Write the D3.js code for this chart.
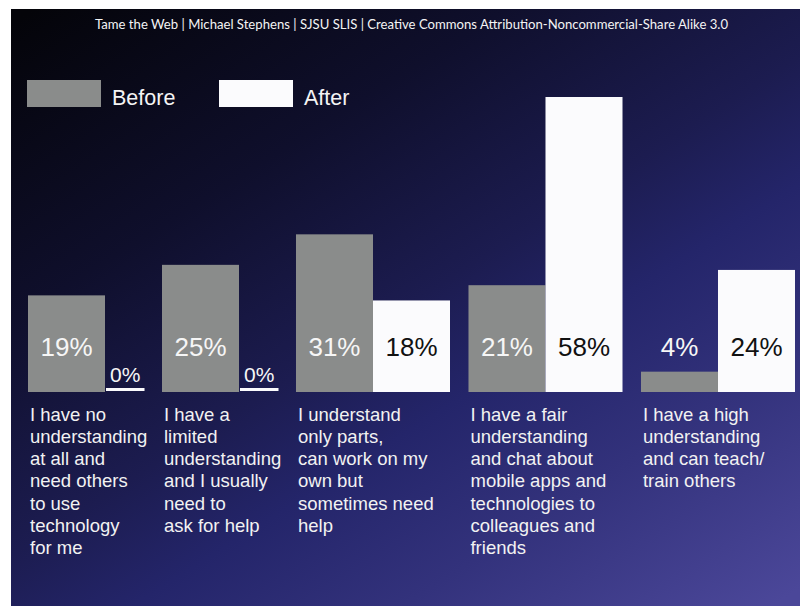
<!DOCTYPE html>
<html>
<head>
<meta charset="utf-8">
<script src="https://cdn.jsdelivr.net/npm/d3@7"></script>
<style>
  html, body { margin: 0; padding: 0; background: #ffffff; }
  svg { display: block; }
</style>
</head>
<body>
<script>
// ---- data ----
const titleText = "Tame the Web | Michael Stephens  | SJSU SLIS | Creative Commons Attribution-Noncommercial-Share Alike 3.0";
const seriesNames = ["Before", "After"];
const categoryLabels = [
  ["I have no", "understanding", "at all and", "need others", "to use", "technology", "for me"],
  ["I have a", "limited", "understanding", "and I usually", "need to", "ask for help"],
  ["I understand", "only parts,", "can work on my", "own but", "sometimes need", "help"],
  ["I have a fair", "understanding", "and chat about", "mobile apps and", "technologies to", "colleagues and", "friends"],
  ["I have a high", "understanding", "and can teach/", "train others"]
];
const beforeValues = [19, 25, 31, 21, 4];
const afterValues  = [0, 0, 18, 58, 24];

// ---- layout / style ----
const W = 803, H = 606;
const colors = { Before: "#8a8c8b", After: "#fbfbfd" };

const svg = d3.select("body").append("svg").attr("width", W).attr("height", H);
const defs = svg.append("defs");
const grad = defs.append("linearGradient").attr("id", "bg")
  .attr("gradientUnits", "userSpaceOnUse")
  .attr("x1", 80).attr("y1", -20).attr("x2", 560).attr("y2", 740);
[[0, "#040409"], [0.28, "#0f0f2c"], [0.5, "#1c1c50"], [0.62, "#24256a"], [0.78, "#33327c"], [1, "#4b4799"]]
  .forEach(([o, c]) => grad.append("stop").attr("offset", o).attr("stop-color", c));

// slide background (white margins around)
svg.append("rect").attr("x", 0).attr("y", 0).attr("width", W).attr("height", H).attr("fill", "#ffffff");
svg.append("rect").attr("x", 11).attr("y", 9).attr("width", 789).attr("height", H - 9).attr("fill", "url(#bg)");

// title
svg.append("text")
  .attr("x", 411.5).attr("y", 29)
  .attr("text-anchor", "middle")
  .attr("textLength", 633).attr("lengthAdjust", "spacingAndGlyphs")
  .attr("font-family", "Lato, 'Open Sans', sans-serif")
  .attr("font-size", 13.5)
  .attr("fill", "#f4f4f4")
  .text(titleText);

// legend
const legend = svg.append("g").attr("transform", "translate(27,80)");
seriesNames.forEach((name, i) => {
  const g = legend.append("g").attr("transform", `translate(${i * 192},0)`);
  g.append("rect").attr("width", 74).attr("height", 27).attr("fill", colors[name]);
  g.append("text").attr("x", 85).attr("y", 25)
    .attr("font-family", "'Liberation Sans', Arial, sans-serif")
    .attr("font-size", 21.5).attr("fill", "#f4f4f4").text(name);
});

// ---- scales ----
// group widths in "bar units": a zero bar occupies half a unit
const gapUnits = 0.24;
const groups = beforeValues.map((b, i) => ({
  i, before: b, after: afterValues[i],
  units: 1 + (afterValues[i] > 0 ? 1 : 0.5)
}));
let acc = 0;
groups.forEach((g, k) => { g.start = acc; acc += g.units + (k < groups.length - 1 ? gapUnits : 0); });
const totalUnits = acc;
const x = d3.scaleLinear().domain([0, totalUnits]).range([28, 795]);
const y = d3.scaleLinear().domain([0, 58]).range([392, 97]);
const unitPx = x(1) - x(0);

const labelBaseline = 356;
const fontFam = "'Liberation Sans', Arial, Helvetica, sans-serif";

groups.forEach(g => {
  const bars = [
    { name: "Before", v: g.before, x0: x(g.start) },
    { name: "After", v: g.after, x0: x(g.start + 1) }
  ];
  bars.forEach(b => {
    if (b.v > 0) {
      svg.append("rect")
        .attr("x", b.x0).attr("y", y(b.v))
        .attr("width", unitPx).attr("height", y(0) - y(b.v))
        .attr("fill", colors[b.name]);
      const covered = y(b.v) < labelBaseline - 22;
      svg.append("text")
        .attr("x", b.x0 + unitPx / 2).attr("y", labelBaseline)
        .attr("text-anchor", "middle")
        .attr("font-family", fontFam).attr("font-size", 26)
        .attr("fill", covered && b.name === "After" ? "#111111" : "#f6f6f6")
        .text(b.v + "%");
    } else {
      svg.append("rect")
        .attr("x", b.x0 + 1).attr("y", y(0) - 4)
        .attr("width", unitPx / 2).attr("height", 3)
        .attr("fill", colors.After);
      svg.append("text")
        .attr("x", b.x0 + 1 + unitPx / 4).attr("y", y(0) - 10)
        .attr("text-anchor", "middle")
        .attr("font-family", fontFam).attr("font-size", 21)
        .attr("fill", "#f6f6f6")
        .text(b.v + "%");
    }
  });
  // category label
  const t = svg.append("text")
    .attr("x", x(g.start) + 2).attr("y", 420.5)
    .attr("font-family", fontFam).attr("font-size", 18.5)
    .attr("fill", "#f2f2f2");
  categoryLabels[g.i].forEach((line, li) => {
    t.append("tspan").attr("x", x(g.start) + 2).attr("dy", li === 0 ? 0 : 22.3).text(line);
  });
});
</script>
</body>
</html>
